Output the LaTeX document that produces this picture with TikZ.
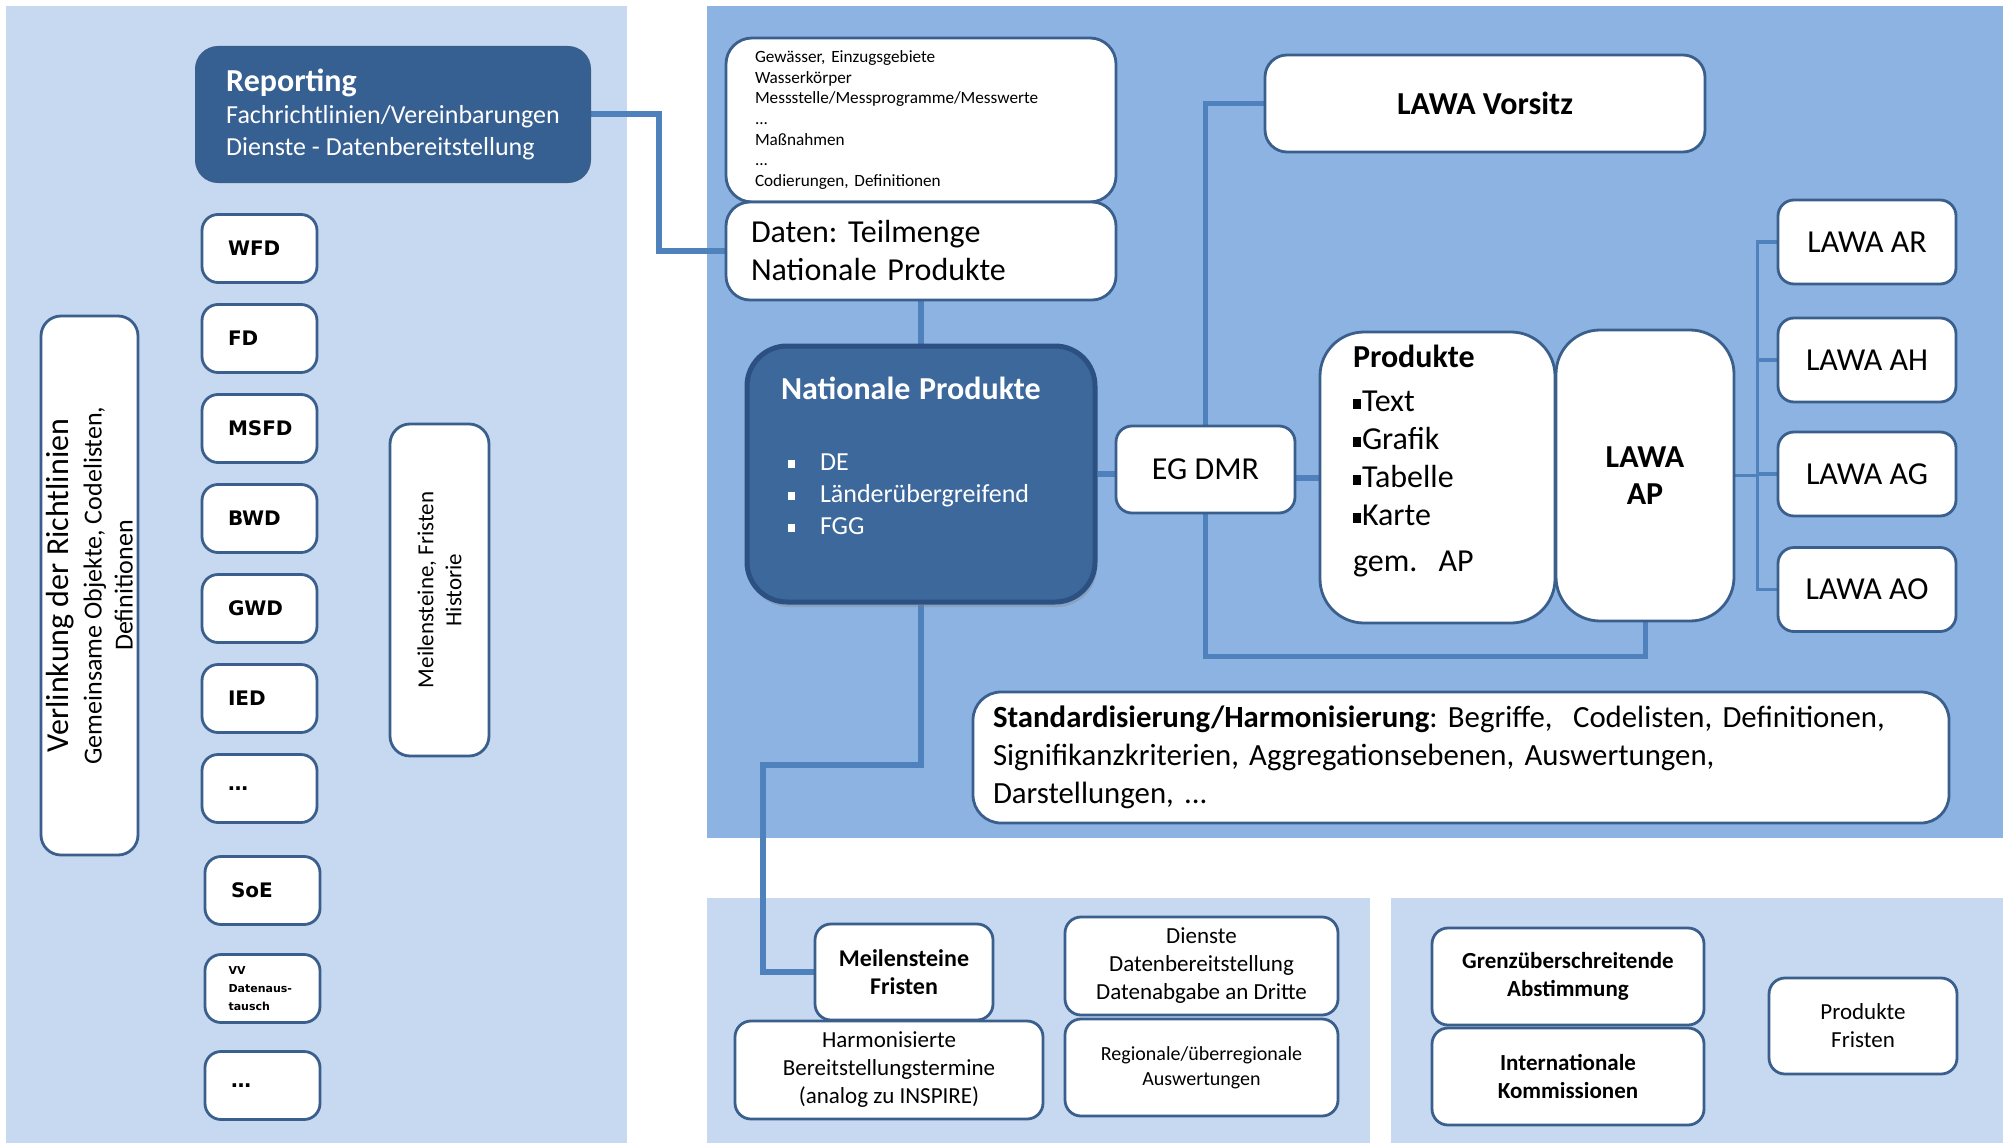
\documentclass[tikz,border=0pt]{standalone}
\usepackage{fontspec}
\setmainfont{Carlito}
\newfontfamily\abbrFont{DejaVu Sans}
\usetikzlibrary{positioning, shadows, backgrounds}
\frenchspacing

\definecolor{panelLight}{HTML}{C6D9F1}
\definecolor{panelMid}{HTML}{8DB3E2}
\definecolor{boxBorder}{HTML}{3A5F8C}
\definecolor{linkBlue}{HTML}{4F81BD}
\definecolor{reportBlue}{HTML}{376092}
\definecolor{natBlue}{HTML}{3C689C}
\definecolor{natBorder}{HTML}{2C5081}

\tikzstyle{canvas} = [x = 0.5pt, y = -0.5pt]
\tikzstyle{whiteBox} = [draw=boxBorder, fill=white, line width=1.4pt, rounded corners=8pt, inner sep=0pt, font=\fontsize{16}{19}\selectfont]
\tikzstyle{abbrBox} = [whiteBox, minimum width=57.5pt, minimum height=34pt, text width=31.5pt, inner xsep=13pt, align=left, font=\abbrFont\bfseries\fontsize{10}{12}\selectfont]
\tikzstyle{lawaBox} = [whiteBox, minimum width=89pt, minimum height=42pt]
\tikzstyle{bottomBox} = [whiteBox, align=center, font=\fontsize{11.5}{14}\selectfont]
\tikzstyle{darkBox} = [text=white, inner sep=0pt, align=left]
\tikzstyle{linkLine} = [draw=linkBlue, line width=3pt]
\tikzstyle{loopLine} = [draw=linkBlue, line width=2.5pt]
\tikzstyle{treeLine} = [draw=linkBlue, line width=1.6pt]

\newcommand{\sqBullet}{\rule[0.12em]{0.28em}{0.28em}}
\newcommand{\npItem}[1]{\makebox[19.5pt][l]{\hspace*{3.5pt}\sqBullet}#1}
\newcommand{\prodItem}[1]{\rule[0.1em]{0.25em}{0.3em}\hspace{0.5pt}#1}

\begin{document}
\begin{tikzpicture}[canvas]
  \useasboundingbox (0,0) rectangle (2007,1145);
  \begin{scope}[on background layer]
    \fill [white] (0,0) rectangle (2007,1145);
    \fill [panelLight] (6,6) rectangle (627,1143);
    \fill [panelMid] (707,6) rectangle (2003,838);
    \fill [panelLight] (707,898) rectangle (1370,1143);
    \fill [panelLight] (1391,898) rectangle (2003,1143);
  \end{scope}

  % left panel
  \node [darkBox, fill=reportBlue, draw=boxBorder, line width=1pt, rounded corners=11pt, minimum width=197pt, minimum height=67.5pt, font=\fontsize{13}{16}\selectfont] (reporting) at (393,114.5) {{\bfseries\fontsize{16}{16}\selectfont Reporting}\\Fachrichtlinien/Vereinbarungen\\Dienste - Datenbereitstellung};
  \foreach \abbr [count=\i from 0] in {WFD, FD, MSFD, BWD, GWD, IED, {\ldots}}
    \node [abbrBox] (dir\i) at (259.5, 248.5 + 90 * \i) {\abbr};
  \node [abbrBox] (soe) at (262.5,890.5) {SoE};
  \node [abbrBox, text width=34pt, inner xsep=11.75pt, font=\abbrFont\bfseries\fontsize{5.5}{9}\selectfont] (vv) at (262.5,988.5) {VV\\Datenaus-\\tausch};
  \node [abbrBox] (more) at (262.5,1085.5) {\ldots};
  \node [whiteBox, rotate=90, rounded corners=10pt, minimum width=269.5pt, minimum height=48.5pt, align=center, font=\fontsize{13}{15.5}\selectfont] (verlinkung) at (89.5,585.5) {{\fontsize{16}{16}\selectfont Verlinkung der Richtlinien}\\[1pt]Gemeinsame Objekte, Codelisten,\\Definitionen};
  \node [whiteBox, rotate=90, rounded corners=10pt, minimum width=166pt, minimum height=49.5pt, align=center, font=\fontsize{11.5}{14}\selectfont] (meilLeft) at (439.5,590) {Meilensteine, Fristen\\Historie};

  % national products
  \node [whiteBox, rounded corners=13pt, minimum width=195pt, minimum height=82pt, text width=166pt, inner xsep=14.5pt, align=left, font=\fontsize{8.6}{10.35}\selectfont] (themen) at (921,120) {Gewässer, Einzugsgebiete\\Wasserkörper\\Messstelle/Messprogramme/Messwerte\\...\\Maßnahmen\\...\\Codierungen, Definitionen};
  \node [whiteBox, rounded corners=12pt, minimum width=195pt, minimum height=49pt, text width=170pt, inner xsep=12.5pt, align=left] (daten) at (921,251) {Daten: Teilmenge\\Nationale Produkte};
  \node [darkBox, fill=natBlue, draw=natBorder, line width=2.5pt, rounded corners=20pt, drop shadow={opacity=0.35, shadow xshift=1pt, shadow yshift=-2.5pt}, minimum width=174pt, minimum height=128pt, text width=140pt, inner xsep=17pt, font=\fontsize{13}{16}\selectfont] (natProd) at (921,474) {{\bfseries\fontsize{16}{16}\selectfont Nationale Produkte}\\[19.5pt]\npItem{DE}\\\npItem{Länderübergreifend}\\\npItem{FGG}\\[2pt]\mbox{}};

  % LAWA
  \node [whiteBox, rounded corners=11pt, minimum width=220pt, minimum height=48.5pt, font=\bfseries\fontsize{16}{19}\selectfont] (vorsitz) at (1485,103.5) {LAWA Vorsitz};
  \node [whiteBox, minimum width=89.5pt, minimum height=43.5pt] (egdmr) at (1205.5,469.5) {EG DMR};
  \node [whiteBox, rounded corners=22pt, minimum width=117.5pt, minimum height=145.5pt, text width=84.5pt, inner xsep=16.5pt, align=left] (produkte) at (1437.5,477.5) {{\bfseries Produkte}\\[3pt]\prodItem{Text}\\\prodItem{Grafik}\\\prodItem{Tabelle}\\\prodItem{Karte}\\[4pt]gem.\ \ AP\\\mbox{}};
  \node [whiteBox, rounded corners=22pt, minimum width=89pt, minimum height=145.5pt, align=center, font=\bfseries\fontsize{16}{18.5}\selectfont] (lawaap) at (1645,475.5) {LAWA\\AP};
  \foreach \unit/\ypos in {AR/242, AH/360, AG/474, AO/589.5}
    \node [lawaBox] (lawa\unit) at (1867,\ypos) {LAWA \unit};
  \node [whiteBox, rounded corners=14pt, minimum width=488pt, minimum height=65.5pt, text width=474pt, inner xsep=7pt, align=left, font=\fontsize{15.4}{19}\selectfont] (standard) at (1461,757.5) {\hspace*{3pt}\textbf{Standardisierung/Harmonisierung}: Begriffe,\ \ Codelisten, Definitionen,\\\hspace*{3pt}Signifikanzkriterien, Aggregationsebenen, Auswertungen,\\\hspace*{3pt}Darstellungen, ...};

  % bottom panels
  \node [bottomBox, font=\bfseries\fontsize{12}{14}\selectfont, minimum width=89pt, minimum height=48pt] (meilFristen) at (904,972) {Meilensteine\\Fristen};
  \node [bottomBox, minimum width=154pt, minimum height=49pt] (harmon) at (889,1070) {Harmonisierte\\Bereitstellungstermine\\(analog zu INSPIRE)};
  \node [bottomBox, minimum width=136.5pt, minimum height=49pt] (dienste) at (1201.5,966) {Dienste\\Datenbereitstellung\\Datenabgabe an Dritte};
  \node [bottomBox, font=\fontsize{10}{12.5}\selectfont, minimum width=136.5pt, minimum height=48.5pt] (regional) at (1201.5,1067.5) {Regionale/überregionale\\Auswertungen};
  \node [bottomBox, font=\bfseries\fontsize{11.5}{14}\selectfont, minimum width=136pt, minimum height=48.5pt] (grenz) at (1568,976.5) {Grenzüberschreitende\\Abstimmung};
  \node [bottomBox, font=\bfseries\fontsize{11.5}{14}\selectfont, minimum width=136pt, minimum height=48.5pt] (intl) at (1568,1076.5) {Internationale\\Kommissionen};
  \node [bottomBox, minimum width=94pt, minimum height=48pt] (prodFristen) at (1863,1026) {Produkte\\Fristen};

  \coordinate [below=17pt of lawaap.south] (apFoot);
  \coordinate [left=25.5pt of meilFristen.west] (meilBend);

  % connectors
  \begin{scope}[on background layer]
    \draw [linkLine] (reporting.east) -- ++(68,0) |- (daten.west);
    \draw [linkLine] (daten.south) -- (natProd.north);
    \draw [linkLine] (natProd.east) -- (natProd.east -| egdmr.west);
    \draw [linkLine] (egdmr.east |- produkte.west) -- (produkte.west);
    \draw [loopLine] (vorsitz.west) -| (egdmr.north);
    \draw [loopLine] (egdmr.south) |- (apFoot) -- (lawaap.south);
    \draw [linkLine] (natProd.south) -- ++(0,160) -| (meilBend) -- (meilFristen.west);
    \foreach \unit in {AR, AH, AG, AO}
      \draw [treeLine] (lawaap.east) -- ++(22,0) |- (lawa\unit.west);
  \end{scope}
\end{tikzpicture}
\end{document}
